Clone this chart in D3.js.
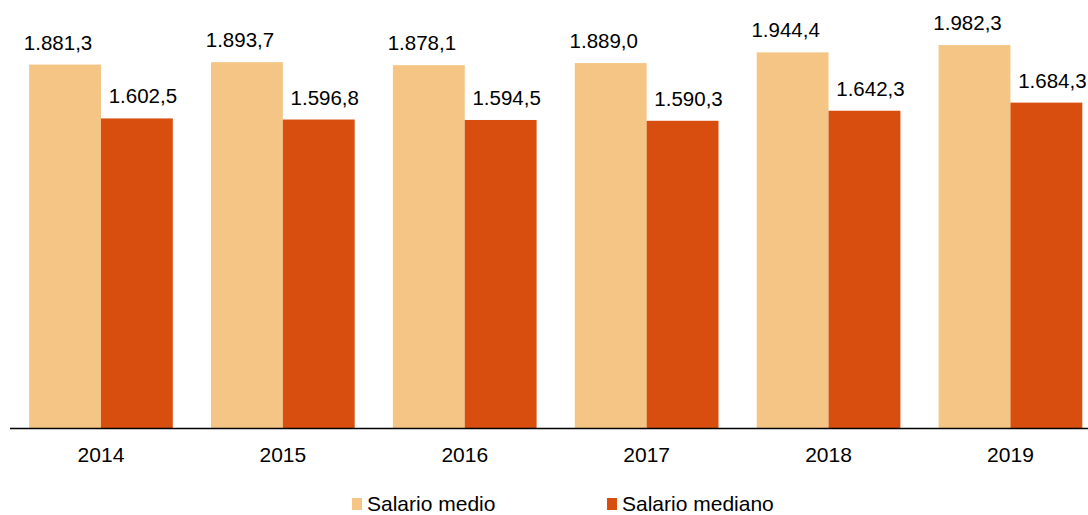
<!DOCTYPE html>
<html>
<head>
<meta charset="utf-8">
<script src="https://cdn.jsdelivr.net/npm/d3@7"></script>
<style>
  html, body { margin: 0; padding: 0; background: #fff; overflow: hidden; }
  svg { display: block; font-family: "Liberation Sans", Arial, sans-serif; }
</style>
</head>
<body>
<svg id="chart" width="1088" height="515"></svg>
<script>
const years = ["2014", "2015", "2016", "2017", "2018", "2019"];
const salarioMedio = [1881.3, 1893.7, 1878.1, 1889.0, 1944.4, 1982.3];
const salarioMediano = [1602.5, 1596.8, 1594.5, 1590.3, 1642.3, 1684.3];
const seriesNames = ["Salario medio", "Salario mediano"];
const seriesColors = ["#F4C584", "#D74E0E"];

const svg = d3.select("#chart");
const baseY = 428;

const x0 = d3.scaleBand().domain(years).range([10, 1101.4]).paddingInner(0.21).paddingOuter(0.105);
const x1 = d3.scaleBand().domain(seriesNames).range([0, x0.bandwidth()]).padding(0);
const y = d3.scaleLinear().domain([0, 2200]).range([baseY, 3]);

const fmt = v => {
  const s = v.toFixed(1).split(".");
  const intPart = s[0].replace(/\B(?=(\d{3})+(?!\d))/g, ".");
  return intPart + "," + s[1];
};

const data = years.map((yr, i) => ({
  year: yr,
  values: [
    { key: seriesNames[0], value: salarioMedio[i], color: seriesColors[0], dx: -7 },
    { key: seriesNames[1], value: salarioMediano[i], color: seriesColors[1], dx: 6 }
  ]
}));

const groups = svg.selectAll("g.grp").data(data).enter().append("g")
  .attr("class", "grp")
  .attr("transform", d => `translate(${x0(d.year)},0)`);

groups.selectAll("rect").data(d => d.values).enter().append("rect")
  .attr("x", d => x1(d.key))
  .attr("width", x1.bandwidth())
  .attr("y", d => y(d.value))
  .attr("height", d => baseY - y(d.value))
  .attr("fill", d => d.color);

groups.selectAll("text.lbl").data(d => d.values).enter().append("text")
  .attr("class", "lbl")
  .attr("x", d => x1(d.key) + x1.bandwidth() / 2 + d.dx)
  .attr("y", d => y(d.value) - 15)
  .attr("text-anchor", "middle")
  .attr("font-size", "20.5px")
  .attr("fill", "#000")
  .text(d => fmt(d.value));

// x axis
const xAxis = d3.axisBottom(x0).tickSize(0).tickPadding(19);
const gx = svg.append("g").attr("transform", `translate(0,${baseY})`).call(xAxis);
gx.select(".domain").remove();
gx.selectAll("text").attr("font-size", "21px").attr("fill", "#000")
  .attr("font-family", "Liberation Sans, Arial, sans-serif");
svg.append("line")
  .attr("x1", 10).attr("x2", 1088)
  .attr("y1", baseY + 0.5).attr("y2", baseY + 0.5)
  .attr("stroke", "#000").attr("stroke-width", 1.6);

// legend
const legendX = [352, 607];
const legend = svg.selectAll("g.leg").data(seriesNames).enter().append("g")
  .attr("class", "leg")
  .attr("transform", (d, i) => `translate(${legendX[i]},498)`);
legend.append("rect").attr("width", 10).attr("height", 12)
  .attr("fill", (d, i) => seriesColors[i]);
legend.append("text").attr("x", 15).attr("y", 12.5)
  .attr("font-size", "21px").attr("fill", "#000")
  .text(d => d);
</script>
</body>
</html>
